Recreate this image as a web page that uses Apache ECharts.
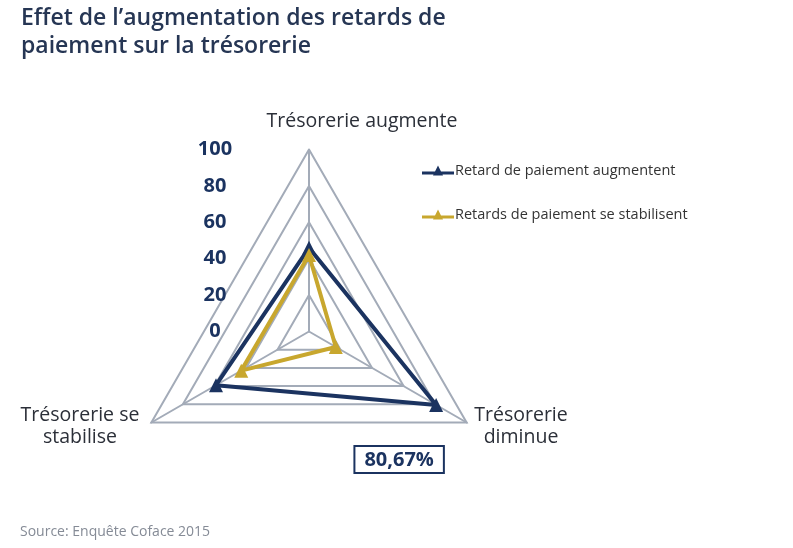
<!DOCTYPE html>
<html>
<head>
<meta charset="utf-8">
<script src="https://cdn.jsdelivr.net/npm/echarts@6/dist/echarts.min.js"></script>
<style>
html,body{margin:0;padding:0;background:#fff;}
#c{width:793px;height:548px;}
</style>
</head>
<body>
<div id="c"></div>
<script>
const indicatorNames = ['Trésorerie augmente', 'Trésorerie se stabilise', 'Trésorerie diminue'];
const seriesNames = ['Retard de paiement augmentent', 'Retards de paiement se stabilisent'];
const navyValues = [46, 59, 80.67];
const yellowValues = [42, 43, 17];
const scaleTicks = [0, 20, 40, 60, 80, 100];
const highlightIndex = 2;

const NAVY = '#1b3360';
const GOLD = '#c8a72e';
const GRID = '#a3abb8';
const FONT = '"Open Sans", sans-serif';

const chart = echarts.init(document.getElementById('c'));
const legendIcon = 'path://M0,6 L32,6 L32,9 L0,9 Z M16,0 L21,10 L11,10 Z';

chart.setOption({
  backgroundColor: '#fff',
  animation: false,
  title: {
    text: "Effet de l’augmentation des retards de\npaiement sur la trésorerie",
    left: 16, top: -1,
    textStyle: { fontFamily: FONT, fontSize: 23, fontWeight: 600, color: '#263654', lineHeight: 28 }
  },
  legend: {
    orient: 'vertical', left: 417, top: 158, itemGap: 29,
    itemWidth: 32, itemHeight: 10,
    data: [
      { name: seriesNames[0], icon: legendIcon, itemStyle: { color: NAVY } },
      { name: seriesNames[1], icon: legendIcon, itemStyle: { color: GOLD } }
    ],
    textStyle: { fontFamily: FONT, fontSize: 14.5, color: '#333', padding: [0, 0, 0, -4] }
  },
  grid: { left: 250, top: 149.5, width: 1, height: 182 },
  xAxis: { type: 'value', show: false },
  yAxis: {
    type: 'value', min: 0, max: 100, interval: 20,
    axisLine: { show: false }, axisTick: { show: false }, splitLine: { show: false },
    axisLabel: {
      align: 'center', margin: 35,
      fontFamily: FONT, fontSize: 20, fontWeight: 'bold', color: NAVY,
      formatter: v => scaleTicks.includes(v) ? String(v) : ''
    }
  },
  radar: {
    center: [309, 331.5],
    radius: 182,
    startAngle: 90,
    shape: 'polygon',
    splitNumber: 5,
    indicator: indicatorNames.map(n => ({ name: n, min: 0, max: 100 })),
    axisName: { show: false },
    splitLine: { lineStyle: { color: GRID, width: 2 } },
    splitArea: { show: false },
    axisLine: { lineStyle: { color: GRID, width: 2 } }
  },
  series: [
    {
      type: 'radar',
      symbol: 'triangle', symbolSize: 14,
      data: [
        {
          name: seriesNames[0], value: navyValues,
          lineStyle: { color: NAVY, width: 4 },
          itemStyle: { color: NAVY },
          label: {
            show: true,
            offset: [-37, 79],
            formatter: p => {
              const i = p.dimensionIndex;
              const v = Array.isArray(p.value) ? p.value[i] : p.value;
              return i === highlightIndex ? '{box|' + v.toFixed(2).replace('.', ',') + '%}' : '';
            },
            rich: {
              box: {
                fontFamily: FONT, fontSize: 20, fontWeight: 'bold', color: NAVY,
                borderColor: NAVY, borderWidth: 2, backgroundColor: '#fff',
                padding: [3, 9, 2, 9]
              }
            }
          }
        },
        {
          name: seriesNames[1], value: yellowValues,
          lineStyle: { color: GOLD, width: 4 },
          itemStyle: { color: GOLD }
        }
      ]
    }
  ],
  graphic: [
    { type: 'text', x: 362, y: 121, style: { text: indicatorNames[0], textAlign: 'center', textVerticalAlign: 'middle', fontFamily: FONT, fontSize: 19.5, fill: '#2b2f38' } },
    { type: 'text', x: 80, y: 426, style: { text: 'Trésorerie se\nstabilise', textAlign: 'center', textVerticalAlign: 'middle', fontFamily: FONT, fontSize: 19.5, lineHeight: 22, fill: '#2b2f38' } },
    { type: 'text', x: 521, y: 426, style: { text: 'Trésorerie\ndiminue', textAlign: 'center', textVerticalAlign: 'middle', fontFamily: FONT, fontSize: 19.5, lineHeight: 22, fill: '#2b2f38' } },
    { type: 'text', x: 20, y: 532, style: { text: 'Source: Enquête Coface 2015', textAlign: 'left', textVerticalAlign: 'middle', fontFamily: FONT, fontSize: 14, fill: '#858b96' } }
  ]
});
</script>
</body>
</html>
